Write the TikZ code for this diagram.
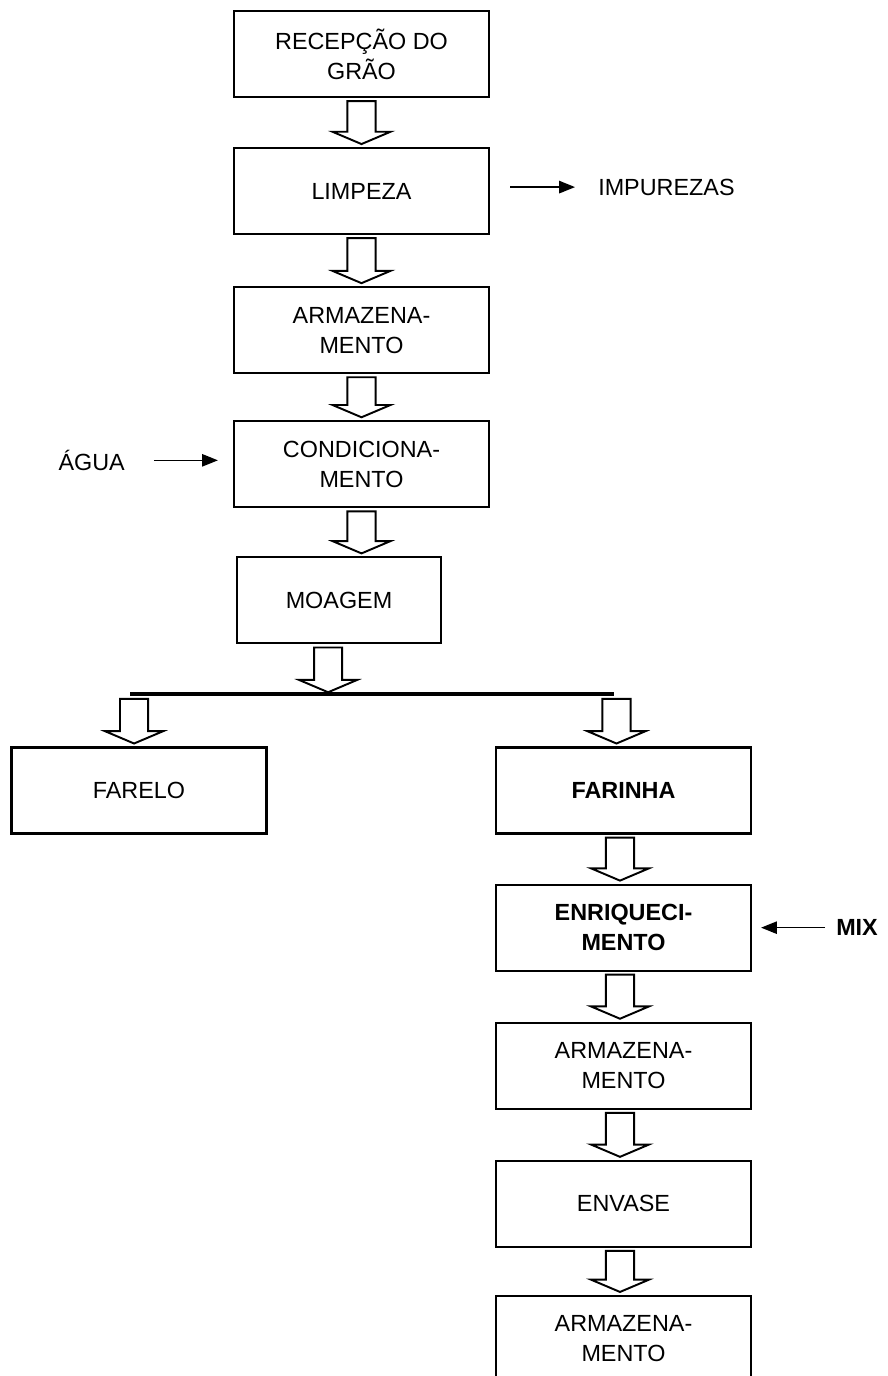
\documentclass[tikz,border=0pt]{standalone}
\usepackage{fontspec}
\setmainfont{Liberation Sans}
\usepackage{tikz}
\usetikzlibrary{positioning, arrows.meta, calc}

% hollow block arrow from #1 down to the height of #2
\newcommand{\hollowarrow}[2]{%
  \draw[hollow] let \p1=(#1), \p2=(#2) in
    (\x1-8pt,\y1) -- (\x1+8pt,\y1) -- (\x1+8pt,\y2+7pt) -- (\x1+16.5pt,\y2+7pt)
    -- (\x1,\y2) -- (\x1-16.5pt,\y2+7pt) -- (\x1-8pt,\y2+7pt) -- cycle;}

\begin{document}
\begin{tikzpicture}[node distance=0.98cm,
    font=\fontsize{13.3pt}{17pt}\selectfont,
    box/.style={draw, line width=1.2pt, minimum width=5.1cm, minimum height=1.72cm, align=center},
    hollow/.style={draw, line width=1.1pt, line join=miter},
    feed/.style={-{Triangle[length=9pt, width=7pt]}, line width=0.9pt}]
    \useasboundingbox (0,0) rectangle (17.74,-27.52);

    % Main line
    \node (recepcao) [box] at (7.23,-1.08) {RECEPÇÃO DO\\GRÃO};
    \node (limpeza) [box, below=of recepcao] {LIMPEZA};
    \node (armaz) [box, below=1.02cm of limpeza] {ARMAZENA-\\MENTO};
    \node (condic) [box, below=0.92cm of armaz] {CONDICIONA-\\MENTO};
    \node (moagem) [box, minimum width=4.08cm, below=0.96cm of condic, xshift=-0.45cm] {MOAGEM};

    % Split after milling
    \coordinate (bar) at (7.2,-13.88);
    \node (farelo) [box, below=2.04cm of moagem, xshift=-4cm] {FARELO};
    \node (farinha) [box, below=2.04cm of moagem, xshift=5.69cm] {\bfseries FARINHA};

    % Flour line
    \node (enriq) [box, below=0.98cm of farinha] {\bfseries ENRIQUECI-\\\bfseries MENTO};
    \node (armazb) [box, below=1cm of enriq] {ARMAZENA-\\MENTO};
    \node (envase) [box, below=1cm of armazb] {ENVASE};
    \node (armazc) [box, below=0.94cm of envase] {ARMAZENA-\\MENTO};

    % Side streams
    \node (impurezas) [right=2.04cm of limpeza, yshift=0.08cm] {IMPUREZAS};
    \node (agua) [left=2.04cm of condic, yshift=0.08cm] {ÁGUA};
    \node (mix) [right=1.56cm of enriq] {\bfseries MIX};

    % Block arrows
    \hollowarrow{[yshift=-1.7pt]recepcao.south}{[yshift=1.7pt]limpeza.north}
    \hollowarrow{[yshift=-1.7pt]limpeza.south}{[yshift=1.7pt]armaz.north}
    \hollowarrow{[yshift=-1.7pt]armaz.south}{[yshift=1.7pt]condic.north}
    \hollowarrow{[yshift=-1.7pt]condic.south}{[yshift=1.7pt]moagem.north}
    \hollowarrow{[xshift=-6.2pt, yshift=-1.7pt]moagem.south}{[yshift=1pt]bar}
    \hollowarrow{[xshift=-2.8pt, yshift=-2.8pt]farelo.north |- bar}{[yshift=1.7pt]farelo.north}
    \hollowarrow{[xshift=-4pt, yshift=-2.8pt]farinha.north |- bar}{[yshift=1.7pt]farinha.north}
    \hollowarrow{[xshift=-2pt, yshift=-1.7pt]farinha.south}{[yshift=1.7pt]enriq.north}
    \hollowarrow{[xshift=-2pt, yshift=-1.7pt]enriq.south}{[yshift=1.7pt]armazb.north}
    \hollowarrow{[xshift=-2pt, yshift=-1.7pt]armazb.south}{[yshift=1.7pt]envase.north}
    \hollowarrow{[xshift=-2pt, yshift=-1.7pt]envase.south}{[yshift=1.7pt]armazc.north}

    % Bar and side arrows
    \draw[line width=1.8pt] (farelo.north west |- bar) ++(2.4,0) -- ($(farinha.north west |- bar)+(2.38,0)$);
    \draw[feed, shorten <=0.4cm, shorten >=0.34cm] (limpeza.east |- impurezas.west) -- (impurezas.west);
    \draw[feed, shorten <=0.46cm, shorten >=0.3cm] (agua.east) -- (condic.west |- agua.east);
    \draw[feed, shorten <=0.1cm, shorten >=0.18cm] (mix.west) -- (enriq.east |- mix.west);
\end{tikzpicture}
\end{document}
